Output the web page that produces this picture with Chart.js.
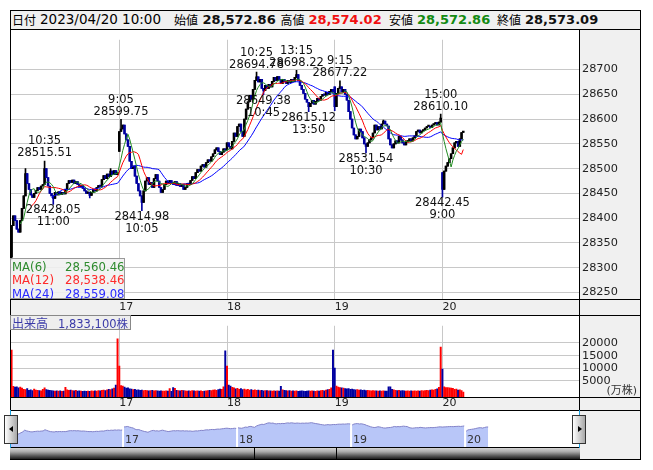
<!DOCTYPE html>
<html>
<head>
<meta charset="utf-8">
<script src="https://cdn.jsdelivr.net/npm/chart.js"></script>
<style>
  body { margin: 0; background: #fff; }
  #wrap { position: relative; width: 653px; height: 470px; overflow: hidden; font-family: "DejaVu Sans", "Noto Sans CJK JP", sans-serif; }
  .box { position: absolute; }
  .hl { position: absolute; height: 1px; background: #000; z-index: 5; }
  .vl { position: absolute; width: 1px; background: #000; z-index: 5; }
  canvas { position: absolute; z-index: 2; }
  .hd { position: absolute; top: 10px; height: 19px; line-height: 19px; white-space: nowrap; z-index: 6; }
  .cjk { font-family: "Noto Sans CJK JP", sans-serif; font-size: 12px; }
  .num { font-weight: bold; font-size: 13px; }
  .leg { position: absolute; z-index: 6; font-size: 11.7px; white-space: nowrap; line-height: 14px; }
  .btn { position: absolute; z-index: 7; box-sizing: border-box; border: 1px solid #333; }
</style>
</head>
<body>
<div id="wrap">
  <!-- panels -->
  <div class="box" style="left:10px;top:10px;width:631px;height:450px;background:#f0f0f0"></div>
  <div class="box" style="left:11px;top:30px;width:568px;height:269px;background:#fff"></div>
  <div class="box" style="left:11px;top:316px;width:568px;height:81px;background:#fff"></div>
  <div class="box" style="left:11px;top:411px;width:568px;height:36px;background:#fff"></div>

  <canvas id="main" width="629" height="285" style="left:11px;top:30px"></canvas>
  <canvas id="vol" width="629" height="94" style="left:11px;top:316px"></canvas>
  <canvas id="nav" width="568" height="36" style="left:11px;top:411px"></canvas>

  <!-- frame lines -->
  <div class="hl" style="left:10px;top:10px;width:631px"></div>
  <div class="hl" style="left:10px;top:29px;width:631px"></div>
  <div class="hl" style="left:10px;top:299px;width:631px"></div>
  <div class="hl" style="left:10px;top:315px;width:631px"></div>
  <div class="hl" style="left:10px;top:397px;width:631px"></div>
  <div class="hl" style="left:10px;top:410px;width:631px"></div>
  <div class="hl" style="left:10px;top:447px;width:570px"></div>
  <div class="hl" style="left:10px;top:459px;width:631px"></div>
  <div class="vl" style="left:10px;top:10px;height:450px"></div>
  <div class="vl" style="left:640px;top:10px;height:450px"></div>
  <div class="vl" style="left:579px;top:29px;height:382px"></div>
  <div class="vl" style="left:10px;top:410px;height:38px;background:#1aa0e0"></div>
  <div class="vl" style="left:579px;top:410px;height:38px;background:#1aa0e0"></div>

  <!-- scrollbar -->
  <div class="box" style="z-index:5;left:10px;top:448px;width:570px;height:11px;background:linear-gradient(#d4d4d4 0%,#a8a8a8 35%,#5a5a5a 70%,#1c1c1c 100%)"></div>
  <div class="vl" style="left:254px;top:448px;height:11px"></div>
  <div class="vl" style="left:336px;top:448px;height:11px"></div>

  <!-- navigator buttons -->
  <div class="btn" style="left:4px;top:415px;width:14px;height:29px;background:linear-gradient(to right,#ffffff,#a8a8a8)">
    <div style="position:absolute;left:4px;top:10px;width:0;height:0;border-top:3.5px solid transparent;border-bottom:3.5px solid transparent;border-right:4px solid #000"></div>
  </div>
  <div class="btn" style="left:572px;top:415px;width:14px;height:29px;background:linear-gradient(to right,#ffffff,#a8a8a8)">
    <div style="position:absolute;left:5px;top:10px;width:0;height:0;border-top:3.5px solid transparent;border-bottom:3.5px solid transparent;border-left:4px solid #000"></div>
  </div>

  <!-- header -->
  <span class="hd cjk" style="left:12px">日付</span>
  <span class="hd" style="left:40px;font-size:13.5px">2023/04/20 10:00</span>
  <span class="hd cjk" style="left:174px">始値</span>
  <span class="hd num" style="left:202.5px;color:#111">28,572.86</span>
  <span class="hd cjk" style="left:280.5px">高値</span>
  <span class="hd num" style="left:308.5px;color:#f01010">28,574.02</span>
  <span class="hd cjk" style="left:389px">安値</span>
  <span class="hd num" style="left:417px;color:#138a13">28,572.86</span>
  <span class="hd cjk" style="left:497px">終値</span>
  <span class="hd num" style="left:525px;color:#111">28,573.09</span>

  <!-- MA legend -->
  <div class="box" style="z-index:6;left:10px;top:258px;width:115px;height:41px;box-sizing:border-box;border:1px solid #999;background:rgba(240,240,240,0.88)"></div>
  <div id="maleg"></div>

  <!-- volume legend -->
  <div class="box" style="z-index:6;left:10px;top:315px;width:121px;height:15px;box-sizing:border-box;border:1px solid #888;background:#eeeeee"></div>
  <span class="leg cjk" style="left:12px;top:315.5px;color:#3a3aa8;font-size:12px">出来高</span>
  <span class="leg" style="left:58px;top:315.5px;color:#3a3aa8;font-size:11.5px">1,833,100<span class="cjk" style="font-size:11.5px">株</span></span>
</div>

<script>
// 5-minute closes per session day (9:00-11:30, 12:30-15:00)
const closes16 = [
  28385, 28405, 28395, 28378, 28372, 28395, 28420, 28445, 28490, 28470,
  28458, 28447, 28442, 28450, 28456, 28462, 28458, 28465, 28468, 28500,
  28482, 28465, 28450, 28445, 28440, 28452, 28447, 28453, 28448, 28452,
  28449, 28458, 28470, 28476, 28472, 28477, 28470, 28474, 28468, 28463,
  28466, 28460, 28455, 28450, 28452, 28446, 28452, 28458, 28455, 28462,
  28466, 28464, 28478, 28486, 28480, 28489, 28484, 28495, 28488, 28496,
  28488, 28492
];
const closes17 = [
  28575, 28580, 28588, 28570, 28558, 28545, 28515, 28500, 28505, 28485,
  28470, 28455, 28445, 28432, 28455, 28475, 28482, 28468, 28472, 28462,
  28480, 28488, 28475, 28462, 28452, 28458, 28468, 28475, 28470, 28476,
  28472, 28468, 28474, 28466, 28470, 28464, 28468, 28458, 28462, 28470,
  28468, 28476, 28484, 28480, 28492, 28498, 28495, 28505, 28508, 28503,
  28512, 28518, 28515, 28524, 28530, 28538, 28542, 28535, 28528, 28533,
  28540, 28536
];
const closes18 = [
  28552, 28545, 28540, 28555, 28572, 28565, 28585, 28590, 28575, 28565,
  28600, 28620, 28635, 28648, 28640, 28660, 28678, 28685, 28675, 28680,
  28662, 28658, 28668, 28662, 28670, 28665, 28676, 28684, 28678, 28686,
  28680, 28672, 28680, 28676, 28672, 28678, 28674, 28680, 28676, 28684,
  28690, 28678, 28668, 28660, 28652, 28640, 28634, 28625, 28632, 28638,
  28630, 28636, 28642, 28638, 28646, 28650, 28648, 28654, 28650, 28656,
  28660, 28655
];
const closes19 = [
  28625, 28652, 28662, 28665, 28655, 28660, 28650, 28638, 28615, 28600,
  28582, 28568, 28560, 28565, 28580, 28575, 28562, 28550, 28545, 28552,
  28558, 28562, 28572, 28588, 28578, 28585, 28580, 28590, 28596, 28590,
  28586, 28560, 28548, 28542, 28550, 28556, 28552, 28565, 28558, 28552,
  28548, 28554, 28556, 28560, 28556, 28562, 28566, 28575, 28578, 28572,
  28576, 28578, 28582, 28585, 28585, 28583, 28588, 28590, 28593, 28588,
  28594, 28602
];
const closes20 = [28458, 28495, 28505, 28512, 28520, 28530, 28542, 28552, 28555, 28545, 28560, 28572.86, 28573.09];

// session opening prices (other bars open at the previous close)
const dayOpens = [28322, 28535, 28538, 28665, 28492];

// volume (万株)
const vol16 = [
  17200, 2900, 2600, 2700, 2300, 2600, 2200, 1700, 1600, 2000,
  1300, 1500, 1200, 1800, 1400, 1300, 1200, 1100, 1700, 2300,
  1600, 1400, 1300, 1200, 1100, 1000, 1100, 1000, 1100, 900,
  1000, 2500, 1500, 1300, 1400, 1200, 1100, 1300, 1000, 1100,
  1000, 900, 1000, 900, 1000, 900, 1100, 1000, 1100, 1000,
  1200, 1100, 1300, 1400, 1200, 1500, 1700, 1600, 1900, 2200,
  3400, 21600
];
const vol17 = [
  10900, 3200, 3000, 2600, 2200, 2300, 1900, 1800, 1600, 1700,
  1400, 1500, 1300, 1400, 1200, 1300, 1200, 1100, 1200, 1300,
  1100, 1200, 1100, 1000, 1100, 1000, 1000, 1100, 1000, 2000,
  900, 2400, 2100, 1300, 1200, 1100, 1300, 1200, 1100, 1000,
  1100, 1000, 1200, 1100, 1000, 1100, 1000, 1100, 900, 1000,
  1100, 1200, 1300, 1200, 1400, 1500, 1300, 1600, 1800, 1700,
  2700, 16900
];
const vol18 = [
  10900, 3400, 3000, 2500, 2300, 1900, 2100, 1700, 2000, 1600,
  1800, 1500, 1700, 1400, 1600, 1300, 1500, 1300, 1400, 1200,
  1300, 1100, 1200, 1200, 1100, 1100, 1000, 1100, 1000, 1100,
  1000, 2900, 1500, 1300, 1200, 1100, 1200, 1000, 1100, 1000,
  1100, 900, 1000, 1100, 1000, 900, 1000, 1100, 1000, 1100,
  1000, 900, 1100, 1000, 1200, 1300, 1100, 1400, 1600, 1700,
  2300, 17200
];
const vol19 = [
  10100, 3000, 2600, 2400, 2300, 2200, 2000, 1900, 2000, 1700,
  1800, 1600, 1500, 1600, 1400, 1500, 1300, 1400, 1200, 1300,
  1200, 1100, 1200, 1100, 1100, 1000, 1100, 1000, 1100, 1000,
  1000, 2700, 2700, 1700, 1500, 1300, 1200, 1300, 1100, 1200,
  1100, 1000, 1100, 1000, 1100, 1000, 1100, 1000, 1100, 1000,
  1200, 1100, 1200, 1300, 1200, 1400, 1500, 1400, 1700, 1900,
  2500, 18400
];
const vol20 = [9700, 2700, 2400, 2400, 2300, 2200, 2100, 1700, 1800, 1400, 1500, 1200, 600];

const dayLabels = ['17', '18', '19', '20'];
const priceTicks = [28250, 28300, 28350, 28400, 28450, 28500, 28550, 28600, 28650, 28700];
const volTicks = [5000, 10000, 15000, 20000];

// labelled highs / lows: [bar index, price, time]
const peaks = [[19, 28515.51, '10:35'], [63, 28599.75, '9:05'], [141, 28694.78, '10:25'],
               [164, 28698.22, '13:15'], [189, 28677.22, '9:15'], [247, 28610.10, '15:00']];
const troughs = [[24, 28428.05, '11:00'], [75, 28414.98, '10:05'], [145, 28649.38, '10:45'],
                 [171, 28615.12, '13:50'], [204, 28531.54, '10:30'], [248, 28442.45, '9:00']];
// other visible wicks
const wickHighs = [[8, 28500], [57, 28500], [214, 28598], [260, 28574.02]];
const wickLows = [[0, 28316], [45, 28441], [186, 28617]];

const maLegend = [['MA(6)', '28,560.46', '#2e8b2e'], ['MA(12)', '28,538.46', '#ff2a2a'], ['MA(24)', '28,559.08', '#2a2aff']];

// ---- build series
const days = [closes16, closes17, closes18, closes19, closes20];
const vdays = [vol16, vol17, vol18, vol19, vol20];
const close = [], open = [], vol = [], dayStart = [];
days.forEach((d, k) => {
  dayStart.push(close.length);
  d.forEach((c, j) => {
    open.push(j === 0 ? dayOpens[k] : d[j - 1]);
    close.push(c);
  });
  vol.push(...vdays[k]);
});
const high = close.map((c, i) => Math.max(c, open[i]));
const low = close.map((c, i) => Math.min(c, open[i]));
peaks.concat(wickHighs).forEach(([i, v]) => { high[i] = Math.max(high[i], v); });
troughs.concat(wickLows).forEach(([i, v]) => { low[i] = Math.min(low[i], v); });

const UP = '#000000', DOWN = '#0000a0';
const candleColor = close.map((c, i) => c >= open[i] ? UP : DOWN);
const volColor = close.map((c, i) => c >= open[i] ? '#ff0000' : '#0000a0');

function movingAverage(n) {
  const out = [];
  for (let i = n - 1; i < close.length; i++) {
    let s = 0;
    for (let j = i - n + 1; j <= i; j++) s += close[j];
    out.push({x: i, y: s / n});
  }
  return out;
}

// MA legend text
const leg = document.getElementById('maleg');
maLegend.forEach(([name, val, col], k) => {
  const top = 259.5 + k * 13.8;
  leg.insertAdjacentHTML('beforeend',
    `<span class="leg" style="left:12px;top:${top}px;color:${col}">${name}</span>` +
    `<span class="leg" style="right:${653 - 124.5}px;top:${top}px;color:${col}">${val}</span>`);
});

const FONT = 'DejaVu Sans';
const X_MIN = -0.33, X_MAX = 326.6;
const VOL_MIN = -1350;

function dayAxis(h, pad) {
  return {
    type: 'linear', min: X_MIN, max: X_MAX, offset: false,
    afterBuildTicks: s => { s.ticks = dayStart.slice(1).map(v => ({value: v})); },
    afterFit: s => { s.height = h; },
    grid: {color: '#c8c8c8', drawTicks: false, offset: false},
    border: {display: false},
    ticks: {autoSkip: false, maxRotation: 0, align: 'start', padding: pad, color: '#222',
            font: {family: FONT, size: 11}, callback: (v, i) => dayLabels[i]}
  };
}

const markPlugin = {
  id: 'marks',
  afterDatasetsDraw(chart) {
    const {ctx, scales: {x, y}} = chart;
    ctx.save();
    ctx.font = '11.5px "DejaVu Sans"';
    ctx.fillStyle = '#111';
    ctx.textAlign = 'center';
    ctx.textBaseline = 'middle';
    peaks.forEach(([i, v, t]) => {
      const px = x.getPixelForValue(i), py = y.getPixelForValue(v);
      ctx.fillText(t, px, py - 19.5);
      ctx.fillText(v.toFixed(2), px, py - 7.5);
    });
    troughs.forEach(([i, v, t]) => {
      const px = x.getPixelForValue(i), py = y.getPixelForValue(v);
      ctx.fillText(v.toFixed(2), px, py + 6);
      ctx.fillText(t, px, py + 18);
    });
    ctx.restore();
  }
};

new Chart(document.getElementById('main'), {
  type: 'bar',
  data: {
    datasets: [
      {type: 'line', data: movingAverage(6), borderColor: 'rgb(34,139,34)', borderWidth: 1, pointRadius: 0, order: 0},
      {type: 'line', data: movingAverage(12), borderColor: 'rgb(255,0,0)', borderWidth: 1, pointRadius: 0, order: 0},
      {type: 'line', data: movingAverage(24), borderColor: 'rgb(0,0,255)', borderWidth: 1, pointRadius: 0, order: 0},
      {data: close.map((c, i) => ({x: i, y: [open[i], c]})), backgroundColor: candleColor,
       barThickness: 1.9, minBarLength: 1.5, grouped: false, order: 1},
      {data: close.map((c, i) => ({x: i, y: [low[i], high[i]]})), backgroundColor: candleColor,
       barThickness: 1, grouped: false, order: 2}
    ]
  },
  options: {
    responsive: false, animation: false, devicePixelRatio: 1,
    layout: {padding: 0, autoPadding: false},
    plugins: {legend: {display: false}, tooltip: {enabled: false}},
    scales: {
      x: dayAxis(16, 2),
      y: {
        position: 'right', min: 28237, max: 28760,
        afterBuildTicks: s => { s.ticks = priceTicks.map(v => ({value: v})); },
        afterFit: s => { s.width = 61; },
        grid: {color: '#c8c8c8', drawTicks: false},
        border: {display: false},
        ticks: {padding: 3, color: '#222', font: {family: FONT, size: 11.3}, callback: v => String(v)}
      }
    }
  },
  plugins: [markPlugin]
});

const unitPlugin = {
  id: 'unit',
  afterDraw(chart) {
    const ctx = chart.ctx;
    ctx.save();
    ctx.font = '11px "DejaVu Sans", "Noto Sans CJK JP"';
    ctx.fillStyle = '#333';
    ctx.textAlign = 'right';
    ctx.textBaseline = 'middle';
    ctx.fillText('(万株)', chart.width - 3, 75);
    ctx.restore();
  }
};

new Chart(document.getElementById('vol'), {
  type: 'bar',
  data: {
    datasets: [{data: vol.map((v, i) => ({x: i, y: [VOL_MIN, v]})), backgroundColor: volColor,
                barThickness: 1.3, grouped: false}]
  },
  options: {
    responsive: false, animation: false, devicePixelRatio: 1,
    layout: {padding: 0, autoPadding: false},
    plugins: {legend: {display: false}, tooltip: {enabled: false}},
    scales: {
      x: dayAxis(13, 0),
      y: {
        position: 'right', min: VOL_MIN, max: 26770,
        afterBuildTicks: s => { s.ticks = volTicks.map(v => ({value: v})); },
        afterFit: s => { s.width = 61; },
        grid: {color: '#c8c8c8', drawTicks: false},
        border: {display: false},
        ticks: {padding: 3, color: '#222', font: {family: FONT, size: 11.3}, callback: v => String(v)}
      }
    }
  },
  plugins: [unitPlugin]
});

const navLabelPlugin = {
  id: 'navLabels',
  afterDatasetsDraw(chart) {
    const {ctx, scales: {x}} = chart;
    ctx.save();
    ctx.font = '11px "DejaVu Sans"';
    ctx.fillStyle = '#333';
    ctx.textAlign = 'left';
    ctx.textBaseline = 'middle';
    dayLabels.forEach((t, k) => ctx.fillText(t, x.getPixelForValue(dayStart[k + 1]) + 1, 29));
    ctx.restore();
  }
};

new Chart(document.getElementById('nav'), {
  type: 'line',
  data: {
    datasets: days.map((d, k) => ({
      data: d.map((c, j) => ({x: dayStart[k] + j, y: c})),
      borderColor: '#8282c8', borderWidth: 1, backgroundColor: '#b8c6f8',
      fill: 'start', pointRadius: 0, tension: 0
    }))
  },
  options: {
    responsive: false, animation: false, devicePixelRatio: 1,
    layout: {padding: 0, autoPadding: false},
    plugins: {legend: {display: false}, tooltip: {enabled: false}},
    scales: {
      x: {type: 'linear', min: 0.54, max: 309.4, display: false},
      y: {min: 28037, max: 29003, display: false}
    }
  },
  plugins: [navLabelPlugin]
});
</script>
</body>
</html>
